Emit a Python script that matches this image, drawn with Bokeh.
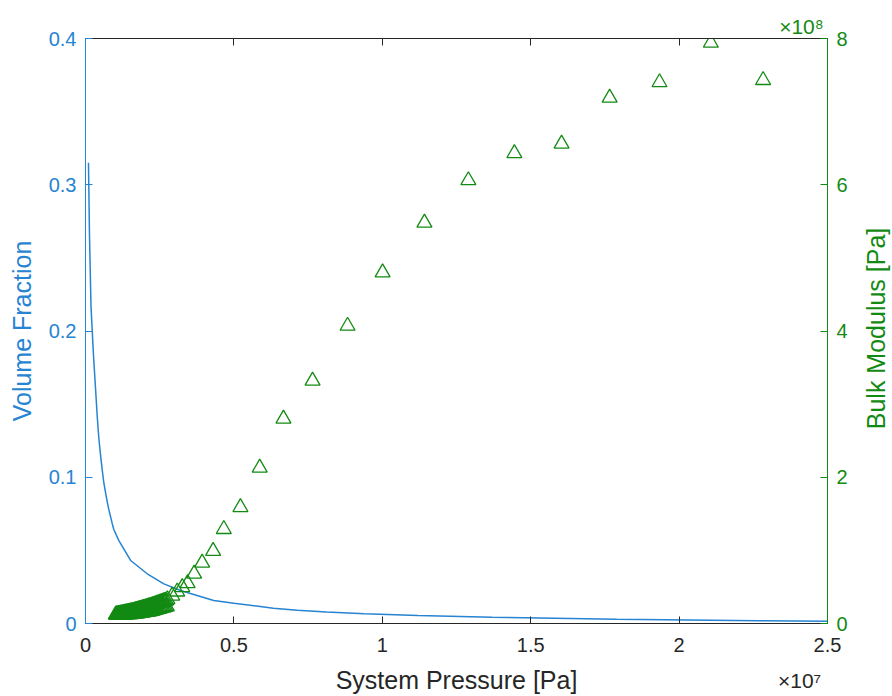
import math
from bokeh.plotting import figure
from bokeh.layouts import row
from bokeh.models import Range1d, LinearAxis, FixedTicker, CustomJSTickFormatter, Label
from bokeh.embed import file_html
from bokeh.resources import INLINE

# ---- data ----
pressure_vf = [1.0e5, 1.35e5, 1.85e5, 2.7e5, 3.37e5, 3.94e5, 4.48e5, 5.05e5, 5.63e5,
               6.17e5, 6.74e5, 7.31e5, 7.85e5, 8.42e5, 9.0e5, 9.54e5, 1.03e6, 1.12e6,
               1.52e6, 2.08e6, 2.64e6, 3.2e6, 3.76e6, 4.32e6, 5.0e6, 5.76e6, 6.33e6,
               7.14e6, 8.12e6, 9.4e6, 1.12e7, 1.37e7, 1.79e7, 2.27e7, 2.5e7]
volume_fraction = [0.315, 0.265, 0.217, 0.183, 0.161, 0.142, 0.127, 0.1155, 0.105,
                   0.0964, 0.0896, 0.0834, 0.078, 0.0732, 0.0684, 0.0643, 0.0609, 0.0568,
                   0.0431, 0.0340, 0.0271, 0.0226, 0.0191, 0.0157, 0.0138, 0.0120, 0.0105,
                   0.0091, 0.0079, 0.0067, 0.0055, 0.0043, 0.0029, 0.0019, 0.0016]

# dense low-pressure cluster of bulk-modulus points (lower and upper edge of the band)
cluster_pressure_low = [1.02e6, 1.06e6, 1.10e6, 1.14e6, 1.18e6, 1.22e6, 1.26e6, 1.30e6,
                        1.34e6, 1.38e6, 1.42e6, 1.46e6, 1.50e6, 1.54e6, 1.58e6, 1.62e6,
                        1.66e6, 1.70e6, 1.74e6, 1.78e6, 1.82e6, 1.86e6, 1.90e6, 1.94e6,
                        1.98e6, 2.02e6, 2.06e6, 2.10e6, 2.14e6, 2.18e6, 2.22e6, 2.26e6,
                        2.30e6, 2.34e6, 2.38e6, 2.42e6, 2.46e6, 2.50e6, 2.54e6, 2.58e6,
                        2.62e6, 2.66e6, 2.70e6, 2.74e6]
cluster_bulk_low = [1.20e7, 1.20e7, 1.21e7, 1.21e7, 1.22e7, 1.22e7, 1.23e7, 1.23e7,
                    1.24e7, 1.24e7, 1.25e7, 1.25e7, 1.26e7, 1.27e7, 1.28e7, 1.30e7,
                    1.33e7, 1.35e7, 1.38e7, 1.40e7, 1.43e7, 1.46e7, 1.48e7, 1.51e7,
                    1.53e7, 1.56e7, 1.59e7, 1.61e7, 1.64e7, 1.67e7, 1.70e7, 1.75e7,
                    1.80e7, 1.85e7, 1.90e7, 1.94e7, 1.99e7, 2.04e7, 2.09e7, 2.14e7,
                    2.19e7, 2.23e7, 2.28e7, 2.33e7]
cluster_pressure_high = [1.04e6, 1.08e6, 1.12e6, 1.16e6, 1.20e6, 1.24e6, 1.28e6, 1.32e6,
                         1.36e6, 1.40e6, 1.44e6, 1.48e6, 1.52e6, 1.56e6, 1.60e6, 1.64e6,
                         1.68e6, 1.72e6, 1.76e6, 1.80e6, 1.84e6, 1.88e6, 1.92e6, 1.96e6,
                         2.00e6, 2.04e6, 2.08e6, 2.12e6, 2.16e6, 2.20e6, 2.24e6, 2.28e6,
                         2.32e6, 2.36e6, 2.40e6, 2.44e6, 2.48e6, 2.52e6, 2.56e6, 2.60e6,
                         2.64e6, 2.68e6, 2.72e6]
cluster_bulk_high = [1.24e7, 1.28e7, 1.31e7, 1.35e7, 1.38e7, 1.41e7, 1.45e7, 1.48e7,
                     1.52e7, 1.55e7, 1.58e7, 1.62e7, 1.65e7, 1.69e7, 1.72e7, 1.75e7,
                     1.80e7, 1.84e7, 1.89e7, 1.94e7, 1.98e7, 2.03e7, 2.08e7, 2.12e7,
                     2.17e7, 2.22e7, 2.26e7, 2.31e7, 2.36e7, 2.40e7, 2.46e7, 2.52e7,
                     2.57e7, 2.63e7, 2.69e7, 2.75e7, 2.80e7, 2.86e7, 2.92e7, 2.97e7,
                     3.03e7, 3.09e7, 3.15e7]
# sparser points at higher pressure
pressure_k = [2.76e6, 2.92e6, 3.09e6, 3.26e6, 3.44e6, 3.66e6, 3.93e6, 4.30e6, 4.66e6,
              5.22e6, 5.87e6, 6.67e6, 7.65e6, 8.83e6, 10.01e6, 11.42e6, 12.90e6,
              14.45e6, 16.04e6, 17.66e6, 19.34e6, 21.07e6, 22.83e6]
bulk_modulus = [3.30e7, 3.80e7, 4.35e7, 4.95e7, 5.50e7, 6.80e7, 8.30e7, 9.90e7, 12.9e7,
                15.9e7, 21.3e7, 28.0e7, 33.2e7, 40.7e7, 48.0e7, 54.8e7, 60.6e7,
                64.3e7, 65.6e7, 71.9e7, 74.0e7, 79.4e7, 74.3e7]

x_ticks = [0, 5e6, 1e7, 1.5e7, 2e7, 2.5e7]
left_ticks = [0, 0.1, 0.2, 0.3, 0.4]
right_ticks = [0, 2e8, 4e8, 6e8, 8e8]

BLUE = "#2684d2"
GREEN = "#138a13"
GRAY = "#262626"
FONT = "Liberation Sans"

p = figure(width=860, height=696, output_backend="svg", toolbar_location=None,
           x_range=Range1d(0, 2.5e7), y_range=Range1d(0, 0.4),
           x_axis_location=None, y_axis_location=None,
           min_border_left=85, min_border_right=33, min_border_top=38, min_border_bottom=73)
p.extra_y_ranges = {"k": Range1d(0, 8e8)}
p.outline_line_color = None
p.grid.visible = False
p.background_fill_color = "white"
p.border_fill_color = "white"


def style(ax, color, label_size="20px"):
    ax.axis_line_color = color
    ax.axis_line_width = 1
    ax.major_tick_line_color = color
    ax.major_tick_in = 7
    ax.major_tick_out = 0
    ax.minor_tick_line_color = None
    ax.major_label_text_color = color
    ax.major_label_text_font = FONT
    ax.major_label_text_font_size = label_size
    ax.axis_label_text_color = color
    ax.axis_label_text_font = FONT
    ax.axis_label_text_font_size = "25px"
    ax.axis_label_text_font_style = "normal"


def hide_line(ax):
    ax.axis_line_color = None
    ax.major_tick_line_color = None
    ax.major_tick_in = 0
    ax.major_tick_out = 0


# bottom axis with tick labels and title
xaxis = LinearAxis(ticker=FixedTicker(ticks=x_ticks),
                   formatter=CustomJSTickFormatter(code="return String(Math.round(tick/1e6)/10);"),
                   axis_label="System Pressure [Pa]")
style(xaxis, GRAY)
xaxis.major_label_standoff = 14
xaxis.axis_label_standoff = 11
p.add_layout(xaxis, "below")

# exponent of the x axis, shown as one extra label
xexp = LinearAxis(ticker=FixedTicker(ticks=[2.406e7]),
                  formatter=CustomJSTickFormatter(code="return '\u00d710\u2077';"))
style(xexp, GRAY, "21px")
hide_line(xexp)
xexp.major_label_standoff = -28
p.add_layout(xexp, "below")

# top axis: ticks only
topaxis = LinearAxis(ticker=FixedTicker(ticks=x_ticks),
                     formatter=CustomJSTickFormatter(code="return '';"))
style(topaxis, GRAY, "1px")
topaxis.major_label_standoff = 0
p.add_layout(topaxis, "above")

# exponent of the right axis
kexp = LinearAxis(ticker=FixedTicker(ticks=[2.412e7]),
                  formatter=CustomJSTickFormatter(code="return '\u00d710\u2078';"))
style(kexp, GREEN, "21px")
hide_line(kexp)
kexp.major_label_standoff = 1
p.add_layout(kexp, "above")

yaxis = LinearAxis(ticker=FixedTicker(ticks=left_ticks),
                   formatter=CustomJSTickFormatter(code="return String(Math.round(tick*10)/10);"),
                   axis_label="Volume Fraction")
style(yaxis, BLUE)
yaxis.major_label_standoff = 9
yaxis.axis_label_standoff = 10
p.add_layout(yaxis, "left")

raxis = LinearAxis(y_range_name="k", ticker=FixedTicker(ticks=right_ticks),
                   formatter=CustomJSTickFormatter(code="return String(Math.round(tick/1e8));"))
style(raxis, GREEN)
raxis.major_label_standoff = 9
p.add_layout(raxis, "right")

p.line(pressure_vf, volume_fraction, line_color=BLUE, line_width=1.5)
for xs, ys in ((cluster_pressure_low, cluster_bulk_low),
               (cluster_pressure_high, cluster_bulk_high),
               (pressure_k, bulk_modulus)):
    p.scatter(xs, ys, marker="triangle", size=15, fill_color=None,
              line_color=GREEN, line_width=1.3, y_range_name="k")

# narrow strip on the right holding the right axis title (reads bottom-to-top)
side = figure(width=32, height=696, output_backend="svg", toolbar_location=None,
              x_range=Range1d(0, 32), y_range=Range1d(0, 696),
              x_axis_location=None, y_axis_location=None, min_border=0)
side.outline_line_color = None
side.grid.visible = False
side.add_layout(Label(x=15, y=351, text="Bulk Modulus [Pa]", angle=math.pi / 2,
                      text_align="center", text_baseline="middle", text_color=GREEN,
                      text_font=FONT, text_font_size="25px"))

layout = row(p, side, spacing=0)
open("out.html", "w").write(file_html(layout, INLINE))
